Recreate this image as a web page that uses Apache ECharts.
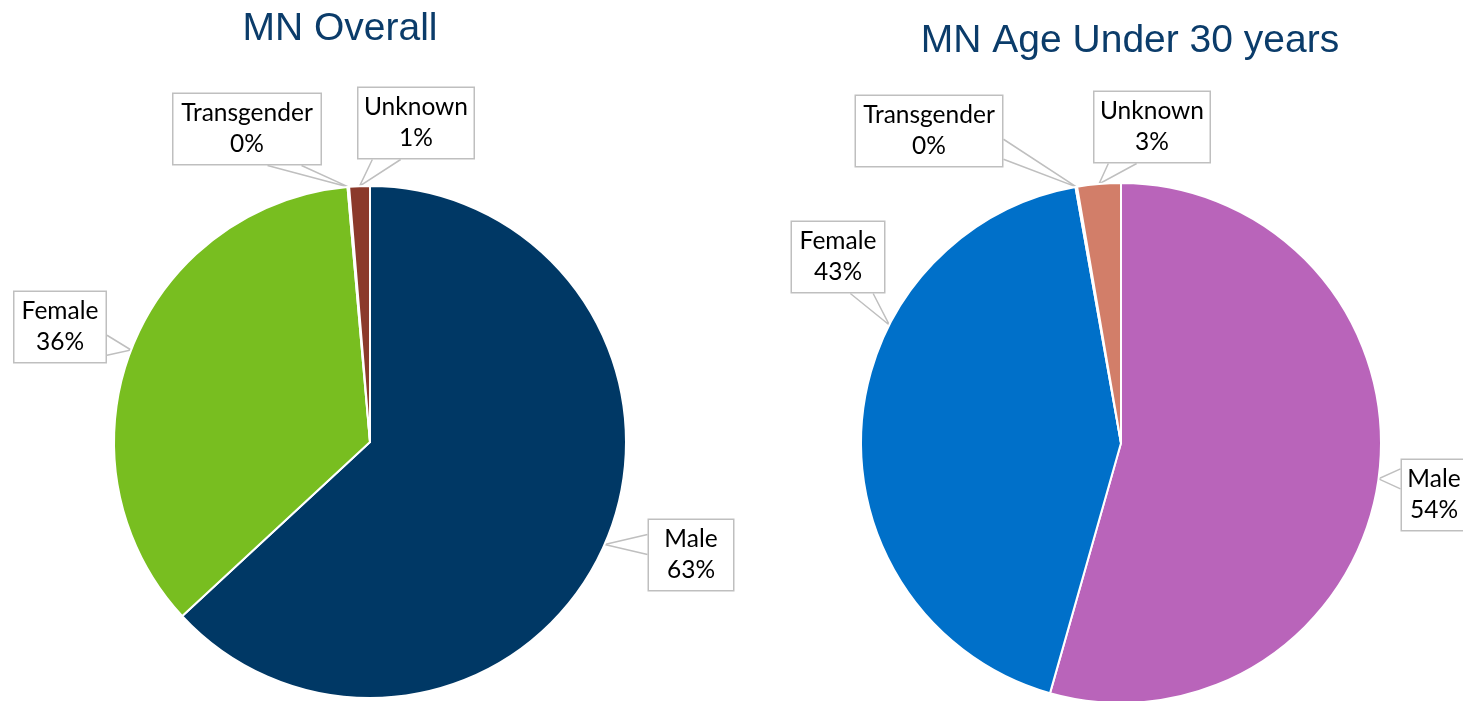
<!DOCTYPE html>
<html>
<head>
<meta charset="utf-8">
<script src="https://cdn.jsdelivr.net/npm/echarts@6/dist/echarts.min.js"></script>
<style>
  html, body { margin: 0; padding: 0; background: #fff; }
  #chart { width: 1463px; height: 701px; }
</style>
</head>
<body>
<div id="chart"></div>
<script>
// data (percent of people)
const categories = ['Male', 'Female', 'Transgender', 'Unknown']
const overallValues = [63.1, 35.5, 0.1, 1.3]
const under30Values = [54.4, 42.8, 0.1, 2.7]
const titles = ['MN Overall', 'MN Age Under 30 years']

// styling / placement (not data)
const overallColors = ['#003865', '#78BE20', '#8B3A2B', '#8B3A2B']
const under30Colors = ['#B964BA', '#0070C9', '#D27E69', '#D27E69']
const overallSpots = [[691, 555], [60, 327], [247, 129], [416, 123]]
const under30Spots = [[1434, 495], [838, 257], [929, 131], [1152, 127]]
const overallBoxW = [84, 91, 147, 115]
const under30BoxW = [64, 92, 146, 115]
// leader tip angle (deg clockwise from 12 o'clock); null = slice middle
const overallTipAngles = [null, null, null, null]
const under30TipAngles = [null, 297, null, null]

const chart = echarts.init(document.getElementById('chart'))

function buildData(values, colors, widths) {
  return categories.map((name, i) => ({
    name: name,
    value: values[i],
    itemStyle: { color: colors[i] },
    label: { width: widths[i] }
  }))
}

const clamp = (v, lo, hi) => Math.max(lo, Math.min(hi, v))

// Excel-like callout: a wedge from the box side facing the slice to the slice edge
function callout(tip, cx, cy, w, h) {
  const x0 = cx - w / 2, x1 = cx + w / 2, y0 = cy - h / 2, y1 = cy + h / 2
  const dx = tip[0] - cx, dy = tip[1] - cy
  if (Math.abs(dy) / (h / 2) > Math.abs(dx) / (w / 2)) {
    const y = dy > 0 ? y1 : y0
    const m = w / 4
    const half = clamp(w * 0.12, 9, 17)
    const c = clamp(tip[0], x0 + m, x1 - m)
    return [[c - half, y], tip, [c + half, y]]
  }
  const x = dx < 0 ? x0 : x1
  const m = h / 4
  const half = 10
  const c = clamp(tip[1], y0 + m, y1 - m)
  return [[x, c - half], tip, [x, c + half]]
}

function pieSeries(values, colors, widths, spots, tipAngles, center, radius) {
  return {
    type: 'pie',
    center: center,
    radius: radius,
    startAngle: 90,
    clockwise: true,
    percentPrecision: 0,
    avoidLabelOverlap: false,
    silent: true,
    emphasis: { disabled: true },
    itemStyle: { borderColor: '#fff', borderWidth: 2 },
    label: {
      show: true,
      position: 'outside',
      formatter: '{b}\n{d}%',
      fontFamily: 'Lato',
      fontSize: 24.5,
      lineHeight: 31,
      color: '#000',
      align: 'center',
      backgroundColor: '#fff',
      borderColor: '#BFBFBF',
      borderWidth: 1.5,
      padding: [4, 0]
    },
    labelLine: {
      show: true,
      length: 10,
      length2: 10,
      lineStyle: { color: '#BFBFBF', width: 1.5 }
    },
    labelLayout: params => {
      const spot = spots[params.dataIndex]
      const out = { x: spot[0], y: spot[1], align: 'center', verticalAlign: 'middle' }
      if (params.labelLinePoints) {
        let tip = [params.labelLinePoints[0][0], params.labelLinePoints[0][1]]
        const a = tipAngles[params.dataIndex]
        if (a != null) {
          const rad = a * Math.PI / 180
          tip = [center[0] + radius * Math.sin(rad), center[1] - radius * Math.cos(rad)]
        }
        out.labelLinePoints = callout(tip, spot[0], spot[1],
          params.labelRect.width, params.labelRect.height)
      }
      return out
    },
    data: buildData(values, colors, widths)
  }
}

const titleStyle = {
  color: '#0B3C6A',
  fontFamily: 'Liberation Sans',
  fontSize: 39,
  fontWeight: 'normal'
}

chart.setOption({
  animation: false,
  title: [
    { text: titles[0], left: 340, top: 10, textAlign: 'center', padding: 0, textStyle: titleStyle },
    { text: titles[1], left: 1130, top: 22, textAlign: 'center', padding: 0, textStyle: titleStyle }
  ],
  series: [
    pieSeries(overallValues, overallColors, overallBoxW, overallSpots, overallTipAngles, [370, 442], 256),
    pieSeries(under30Values, under30Colors, under30BoxW, under30Spots, under30TipAngles, [1121, 443], 260)
  ]
})

window.addEventListener('resize', () => chart.resize())
</script>
</body>
</html>
